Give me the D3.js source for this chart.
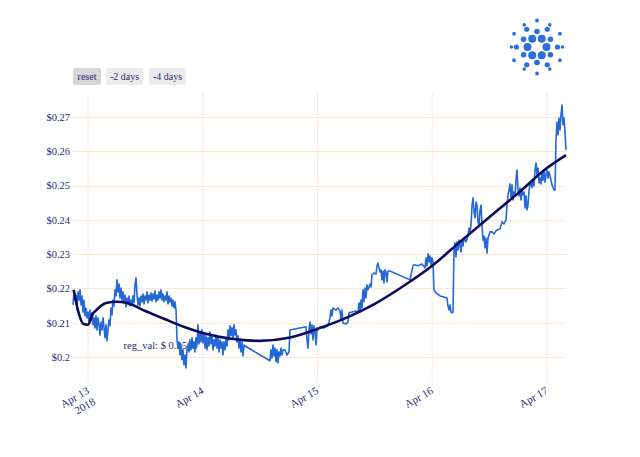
<!DOCTYPE html>
<html>
<head>
<meta charset="utf-8">
<script src="https://cdn.jsdelivr.net/npm/d3@7"></script>
<style>
  html, body { margin: 0; padding: 0; background: #fff; }
  svg { display: block; }
  text { font-family: "Liberation Serif", "Times New Roman", serif; }
</style>
</head>
<body>
<svg id="chart" width="640" height="457"></svg>
<script>
// ---------------- data ----------------
// hours relative to 2018-04-13 00:00 UTC, price in USD
const priceSeries = [
  [-3.14,0.2152],[-2.93,0.2190],[-2.72,0.2166],[-2.51,0.2181],[-2.30,0.2137],[-2.09,0.2190],[-1.88,0.2166],[-1.67,0.2196],
  [-1.46,0.2152],[-1.26,0.2178],[-1.05,0.2131],[-0.84,0.2166],[-0.63,0.2120],[-0.42,0.2143],[-0.21,0.2114],[0.00,0.2131],
  [0.21,0.2102],[0.42,0.2137],[0.63,0.2108],[0.84,0.2129],[1.05,0.2094],[1.26,0.2114],[1.46,0.2085],[1.67,0.2120],
  [1.88,0.2079],[2.09,0.2114],[2.30,0.2094],[2.51,0.2064],[2.72,0.2102],[2.93,0.2079],[3.14,0.2114],[3.35,0.2085],
  [3.56,0.2056],[3.77,0.2094],[3.97,0.2047],[4.18,0.2079],[4.39,0.2108],[4.60,0.2091],[4.81,0.2143],[5.02,0.2123],
  [5.23,0.2166],[5.44,0.2149],[5.65,0.2196],[5.86,0.2178],[6.07,0.2225],[6.28,0.2190],[6.49,0.2213],[6.69,0.2172],
  [6.90,0.2201],[7.11,0.2166],[7.32,0.2190],[7.53,0.2158],[7.74,0.2181],[7.95,0.2146],[8.16,0.2172],[8.37,0.2155],
  [8.58,0.2178],[8.79,0.2149],[9.00,0.2166],[9.20,0.2152],[9.41,0.2178],[9.62,0.2158],[9.83,0.2210],[10.04,0.2231],
  [10.25,0.2181],[10.46,0.2152],[10.67,0.2172],[10.88,0.2149],[11.09,0.2178],[11.30,0.2161],[11.51,0.2184],[11.72,0.2155],
  [11.92,0.2178],[12.13,0.2166],[12.34,0.2190],[12.55,0.2158],[12.76,0.2181],[12.97,0.2166],[13.18,0.2187],[13.39,0.2163],
  [13.60,0.2184],[13.81,0.2169],[14.02,0.2193],[14.23,0.2161],[14.43,0.2181],[14.64,0.2166],[14.85,0.2190],[15.06,0.2172],
  [15.27,0.2196],[15.48,0.2166],[15.69,0.2184],[15.90,0.2161],[16.11,0.2178],[16.32,0.2166],[16.53,0.2190],[16.74,0.2155],
  [16.95,0.2178],[17.15,0.2161],[17.36,0.2172],[17.57,0.2149],[17.78,0.2166],[17.99,0.2143],[18.20,0.2161],[18.41,0.2137],
  [18.62,0.2050],[18.83,0.2026],[19.04,0.2044],[19.25,0.2006],[19.46,0.2035],[19.66,0.1992],[19.87,0.2021],[20.08,0.1977],
  [20.29,0.2006],[20.50,0.1968],[20.71,0.2021],[20.92,0.2035],[21.13,0.2015],[21.34,0.2050],[21.55,0.2021],[21.76,0.2056],
  [21.97,0.2026],[22.18,0.2044],[22.38,0.2015],[22.59,0.2056],[22.80,0.2032],[23.01,0.2094],[23.22,0.2038],[23.43,0.2073],
  [23.64,0.2044],[23.85,0.2079],[24.06,0.2041],[24.27,0.2067],[24.48,0.2026],[24.69,0.2062],[24.89,0.2021],[25.10,0.2056],
  [25.31,0.2032],[25.52,0.2073],[25.73,0.2038],[25.94,0.2062],[26.15,0.2021],[26.36,0.2050],[26.57,0.2032],[26.78,0.2064],
  [26.99,0.2026],[27.20,0.2056],[27.41,0.2015],[27.61,0.2050],[27.82,0.2026],[28.03,0.2044],[28.24,0.2006],[28.45,0.2044],
  [28.66,0.2021],[28.87,0.2056],[29.08,0.2032],[29.29,0.2079],[29.50,0.2050],[29.71,0.2091],[29.92,0.2062],[30.12,0.2085],
  [30.33,0.2056],[30.54,0.2094],[30.75,0.2064],[30.96,0.2079],[31.17,0.2044],[31.38,0.2062],[31.59,0.2026],[31.80,0.2050],
  [32.01,0.2015],[32.22,0.2044],[32.43,0.2003],[32.64,0.2035],[32.85,0.2032],
  [38.08,0.1989],[38.28,0.2021],[38.49,0.1997],[38.70,0.2035],[38.91,0.2003],[39.12,0.2026],[39.33,0.1986],[39.54,0.2021],
  [39.75,0.1983],[39.96,0.2015],[40.17,0.2003],[40.38,0.2026],[40.59,0.2006],[40.79,0.2021],[41.21,0.2021],[41.63,0.2006],
  [42.05,0.2015],[42.26,0.2079],
  [45.60,0.2088],[45.81,0.2050],[46.02,0.2026],[46.23,0.2079],[46.44,0.2102],[46.65,0.2067],[46.86,0.2094],[47.07,0.2050],
  [47.28,0.2091],[47.49,0.2073],[47.70,0.2035],[47.91,0.2085],[48.12,0.2079],[48.53,0.2088],[49.37,0.2085],[50.21,0.2091],
  [50.63,0.2114],[50.84,0.2137],[51.04,0.2120],[51.25,0.2143],[51.88,0.2137],[52.30,0.2143],[52.72,0.2134],[52.93,0.2108],
  [53.14,0.2137],[53.35,0.2099],[53.97,0.2096],[54.39,0.2102],[54.60,0.2129],[55.23,0.2131],[56.07,0.2134],[56.49,0.2129],
  [56.70,0.2158],[56.90,0.2131],[57.11,0.2166],[57.32,0.2143],[57.53,0.2196],[57.74,0.2161],[57.95,0.2201],[58.16,0.2172],
  [58.37,0.2210],[58.58,0.2196],[58.99,0.2213],[59.20,0.2204],[59.41,0.2239],[59.83,0.2245],[60.25,0.2242],[60.46,0.2266],
  [60.67,0.2274],[60.88,0.2260],[61.09,0.2248],[61.30,0.2254],[61.51,0.2225],[61.72,0.2251],[61.92,0.2216],[62.13,0.2254],
  [62.34,0.2248],[62.55,0.2219],[62.76,0.2251],[63.18,0.2251],
  [67.36,0.2225],[67.57,0.2239],[67.99,0.2266],[68.20,0.2269],[69.04,0.2266],[69.87,0.2271],[70.50,0.2260],[70.71,0.2289],
  [70.92,0.2266],[71.13,0.2301],[71.34,0.2277],[71.55,0.2295],[71.75,0.2269],[71.96,0.2289],[72.17,0.2277],
  [72.38,0.2196],[72.80,0.2187],[73.64,0.2178],[74.47,0.2175],[75.10,0.2172],[75.31,0.2149],[75.52,0.2137],[75.73,0.2152],
  [75.94,0.2131],[76.15,0.2129],[76.36,0.2131],
  [76.57,0.2312],[76.78,0.2333],[76.99,0.2292],[77.20,0.2336],[77.41,0.2312],[77.62,0.2341],[77.83,0.2327],[78.04,0.2306],
  [78.24,0.2341],[78.45,0.2324],[78.66,0.2347],[79.08,0.2336],[79.50,0.2353],[79.71,0.2376],[79.92,0.2365],
  [80.13,0.2385],[80.34,0.2443],[80.55,0.2464],[80.76,0.2423],[80.97,0.2406],[81.18,0.2452],[81.38,0.2443],[81.59,0.2394],
  [81.80,0.2382],[82.01,0.2429],[82.22,0.2443],[82.43,0.2385],[82.64,0.2341],[82.85,0.2353],[83.06,0.2318],[83.27,0.2347],
  [83.48,0.2303],[83.69,0.2347],[84.10,0.2365],[84.52,0.2365],[84.94,0.2359],[85.36,0.2368],[85.78,0.2371],[86.19,0.2373],
  [86.61,0.2394],[87.03,0.2388],[87.45,0.2400],[87.66,0.2443],[87.87,0.2473],
  [88.08,0.2487],[88.29,0.2505],[88.50,0.2464],[88.71,0.2502],[88.92,0.2458],[89.13,0.2481],[89.33,0.2470],[89.54,0.2516],
  [89.75,0.2545],[89.96,0.2487],[90.17,0.2470],[90.38,0.2493],[90.59,0.2458],[90.80,0.2487],[91.01,0.2473],[91.22,0.2481],
  [91.43,0.2435],[91.64,0.2470],[91.84,0.2429],[92.05,0.2443],[92.26,0.2487],[92.47,0.2502],
  [92.68,0.2510],[92.89,0.2493],[93.10,0.2516],[93.31,0.2499],[93.52,0.2545],[93.73,0.2566],[93.94,0.2531],[94.15,0.2551],
  [94.36,0.2508],[94.56,0.2522],[94.77,0.2505],[94.98,0.2540],[95.19,0.2516],[95.40,0.2545],[95.61,0.2510],[95.82,0.2531],
  [96.03,0.2545],[96.24,0.2522],[96.45,0.2540],[96.66,0.2528],[97.07,0.2502],[97.49,0.2487],[97.70,0.2487],
  [97.91,0.2633],[98.12,0.2685],[98.33,0.2648],[98.54,0.2697],[98.75,0.2662],[98.95,0.2706],[99.16,0.2735],[99.37,0.2677],
  [99.58,0.2697],[99.79,0.2656],[100.00,0.2604]
];

const regressionHours  = [-3, -2, -1, 0, 1, 2, 3, 4, 6, 8, 12, 16, 20, 24, 30, 36, 42, 48, 54, 60, 66, 72, 78, 84, 90, 96, 100];
const regressionValues = [0.2196, 0.2131, 0.2097, 0.2094, 0.2126, 0.2140, 0.2152, 0.2158, 0.2161, 0.2158, 0.2134, 0.2111,
                          0.2088, 0.2070, 0.2053, 0.2047, 0.2056, 0.2082, 0.2114, 0.2155, 0.2207, 0.2266, 0.2338, 0.2408,
                          0.2478, 0.2551, 0.2589];

const yTickValues = [0.20, 0.21, 0.22, 0.23, 0.24, 0.25, 0.26, 0.27];
const yTickLabels = ["$0.2", "$0.21", "$0.22", "$0.23", "$0.24", "$0.25", "$0.26", "$0.27"];
const xTickDays   = [13, 14, 15, 16, 17];
const xTickLabels = [["Apr 13", "2018"], ["Apr 14"], ["Apr 15"], ["Apr 16"], ["Apr 17"]];
const xDomainHours = [-3.14, 100];
const yDomain = [0.19242, 0.27729];
const buttonLabels = ["reset", "-2 days", "-4 days"];
const annotationText = "reg_val: $ 0.2588";
const annotationAt = [7.45, 0.2023];

// ---------------- drawing ----------------
const base = Date.UTC(2018, 3, 13);
const toDate = h => new Date(base + h * 3600e3);

const plot = { left: 73, right: 566, top: 92, bottom: 383 };
const textColor = "#2b2b7a";

const svg = d3.select("#chart");

const x = d3.scaleUtc().domain(xDomainHours.map(toDate)).range([plot.left, plot.right]);
const y = d3.scaleLinear().domain(yDomain).range([plot.bottom, plot.top]);

// vertical gridlines
const xTicks = xTickDays.map(d => new Date(Date.UTC(2018, 3, d)));
svg.append("g").selectAll("line").data(xTicks).join("line")
  .attr("x1", d => x(d)).attr("x2", d => x(d))
  .attr("y1", plot.top).attr("y2", plot.bottom)
  .attr("stroke", "#ececec").attr("stroke-width", 1);

// horizontal gridlines
svg.append("g").selectAll("line").data(yTickValues).join("line")
  .attr("x1", plot.left - 1).attr("x2", plot.right)
  .attr("y1", d => Math.round(y(d)) + 0.5).attr("y2", d => Math.round(y(d)) + 0.5)
  .attr("stroke", "#fde6cc").attr("stroke-width", 1);

// y axis labels
const yAxis = d3.axisLeft(y).tickValues(yTickValues)
  .tickFormat((d, i) => yTickLabels[i]).tickSize(0).tickPadding(2);
const gy = svg.append("g").attr("transform", `translate(${plot.left - 1},0)`).call(yAxis);
gy.select(".domain").remove();
gy.selectAll("text").attr("fill", textColor).style("font-size", "10.5px")
  .style("font-family", '"Liberation Serif", serif');

// x axis labels (rotated)
const gx = svg.append("g");
xTicks.forEach((d, i) => {
  const t = gx.append("text")
    .attr("transform", `translate(${x(d) - 2},${plot.bottom + 3}) rotate(-30)`)
    .attr("text-anchor", "end")
    .attr("fill", textColor)
    .style("font-size", "11px");
  xTickLabels[i].forEach((line, k) => {
    t.append("tspan").attr("x", 0).attr("dy", k === 0 ? "0.71em" : "1.15em").text(line);
  });
});

// annotation (below the lines)
svg.append("text")
  .attr("x", x(toDate(annotationAt[0]))).attr("y", y(annotationAt[1]))
  .attr("fill", textColor).style("font-size", "10.5px")
  .text(annotationText);

// price line
const priceLine = d3.line().x(d => x(toDate(d[0]))).y(d => y(d[1]));
svg.append("path").datum(priceSeries)
  .attr("d", priceLine)
  .attr("fill", "none").attr("stroke", "#2468d8").attr("stroke-width", 1.6)
  .attr("stroke-linejoin", "round");

// regression line
const regData = regressionHours.map((h, i) => [h, regressionValues[i]]);
const regLine = d3.line().curve(d3.curveMonotoneX).x(d => x(toDate(d[0]))).y(d => y(d[1]));
svg.append("path").datum(regData)
  .attr("d", regLine)
  .attr("fill", "none").attr("stroke", "#0d0b5e").attr("stroke-width", 2.6)
  .attr("stroke-linejoin", "round");

// range buttons
const btnX = [73, 106, 149], btnW = [28, 37, 37];
const bg = svg.append("g");
buttonLabels.forEach((lab, i) => {
  bg.append("rect").attr("x", btnX[i]).attr("y", 68).attr("width", btnW[i]).attr("height", 17)
    .attr("rx", 2).attr("fill", i === 0 ? "#d6d6d6" : "#ececec");
  bg.append("text").attr("x", btnX[i] + btnW[i] / 2).attr("y", 80)
    .attr("text-anchor", "middle").attr("fill", textColor).style("font-size", "10px").text(lab);
});

// Cardano-style logo
const logo = svg.append("g").attr("transform", "translate(537,47)");
const rings = [
  { n: 6, r: 9.5, a0: 0, s: 4.0 },
  { n: 6, r: 15.5, a0: 30, s: 2.8 },
  { n: 6, r: 20.5, a0: 0, s: 2.6 },
  { n: 6, r: 26.5, a0: 30, s: 1.9 },
  { n: 6, r: 25.5, a0: 0, s: 1.8 }
];
rings.forEach(rg => {
  d3.range(rg.n).forEach(k => {
    const a = (rg.a0 + k * 360 / rg.n) * Math.PI / 180;
    logo.append("circle").attr("cx", rg.r * Math.cos(a)).attr("cy", rg.r * Math.sin(a))
      .attr("r", rg.s).attr("fill", "#2a6fdc");
  });
});
</script>
</body>
</html>
